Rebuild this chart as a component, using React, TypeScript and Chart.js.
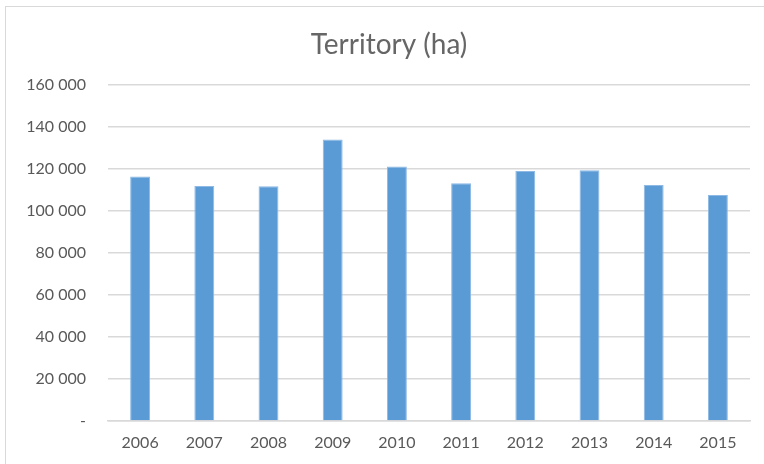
import React, { useEffect, useRef } from "react";
import { Chart, registerables } from "chart.js";

Chart.register(...registerables);

const categories = ["2006", "2007", "2008", "2009", "2010", "2011", "2012", "2013", "2014", "2015"];
const territory = [116300, 111800, 111700, 133900, 121000, 113100, 118900, 119300, 112300, 107500];
const yTicks = [0, 20000, 40000, 60000, 80000, 100000, 120000, 140000, 160000];
const titleText = "Territory (ha)";

function fmt(v: number): string {
  if (v === 0) return "-";
  return String(v).replace(/\B(?=(\d{3})+(?!\d))/g, " ");
}

export default function App() {
  const ref = useRef<HTMLCanvasElement | null>(null);
  useEffect(() => {
    if (!ref.current) return;
    const chart = new Chart(ref.current, {
      type: "bar",
      data: {
        labels: categories,
        datasets: [
          {
            label: titleText,
            data: territory,
            backgroundColor: "#5B9BD5",
            borderColor: "#8DB9E4",
            borderWidth: 1,
            barPercentage: 0.31,
            categoryPercentage: 1,
          },
        ],
      },
      options: {
        animation: false,
        responsive: false,
        maintainAspectRatio: false,
        layout: { padding: 0 },
        plugins: {
          legend: { display: false },
          tooltip: { enabled: false },
          title: {
            display: true,
            text: titleText,
            color: "#666666",
            font: { family: "Lato", size: 28, weight: "normal" },
            padding: { top: 21, bottom: 23 },
          },
        },
        scales: {
          x: {
            grid: { display: false, drawTicks: false },
            border: { display: true, color: "#D9D9D9", width: 1.5 },
            ticks: {
              color: "#595959",
              font: { family: "Lato", size: 16 },
              padding: 12,
              maxRotation: 0,
            },
            afterFit: (s: any) => {
              s.height = 44;
            },
          },
          y: {
            min: 0,
            max: 160000,
            afterBuildTicks: (s: any) => {
              s.ticks = yTicks.map((v) => ({ value: v }));
            },
            grid: { color: "#D9D9D9", lineWidth: 1.5, drawTicks: false },
            border: { display: false },
            ticks: {
              color: "#595959",
              font: { family: "Lato", size: 16 },
              padding: 22,
              callback: (v: any) => fmt(Number(v)),
            },
            afterFit: (s: any) => {
              s.width = 102;
            },
          },
          yRight: {
            position: "right",
            min: 0,
            max: 160000,
            grid: { display: false, drawTicks: false },
            border: { display: false },
            ticks: { display: false },
            afterFit: (s: any) => {
              s.width = 22;
            },
          },
        },
      },
    });
    return () => chart.destroy();
  }, []);

  return (
    <div
      style={{
        position: "fixed",
        left: 0,
        top: 0,
        width: 764,
        height: 464,
        overflow: "hidden",
        background: "#fff",
      }}
    >
      <div
        style={{
          position: "absolute",
          left: 5,
          top: 6,
          width: 766,
          height: 470,
          border: "1px solid #D9D9D9",
          background: "#fff",
        }}
      >
        <canvas ref={ref} width={766} height={458} style={{ display: "block" }} />
      </div>
    </div>
  );
}
